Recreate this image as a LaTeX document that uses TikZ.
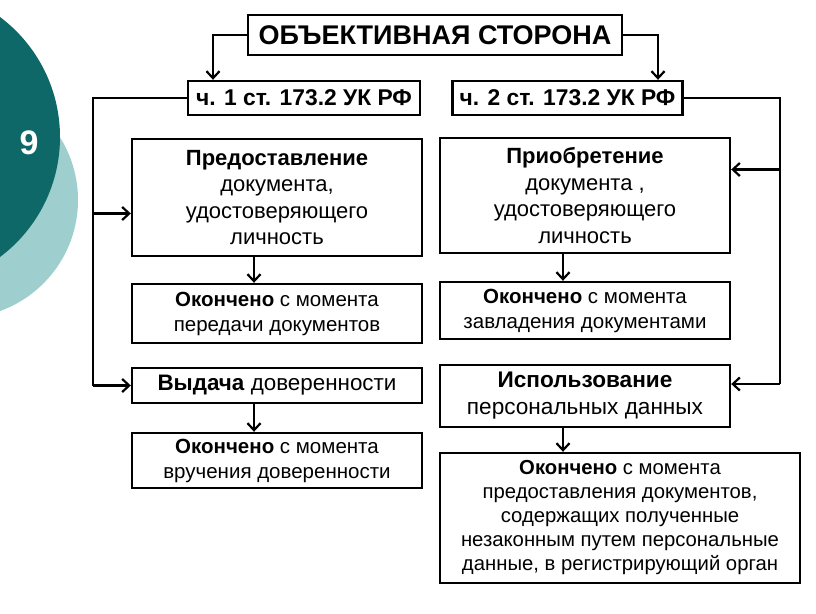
\documentclass[tikz,border=0pt]{standalone}
\usepackage{fontspec}
\setmainfont{Liberation Sans}
\usetikzlibrary{arrows.meta}
\definecolor{darkteal}{RGB}{14,104,104}
\definecolor{lightteal}{RGB}{158,206,206}
\begin{document}
\begin{tikzpicture}[x=1pt,y=-1pt,
  box/.style={draw, line width=2.4pt, inner sep=0pt, align=center, font=\fontsize{20.5}{25}\selectfont},
  conn/.style={line width=2.4pt},
  arr/.style={line width=2.4pt, -{Straight Barb[length=7pt,width=13pt,line width=2.2pt]}}]
\useasboundingbox (0,0) rectangle (816,613);
\clip (0,0) rectangle (816,613);
\fill[lightteal] (-40,200) circle (118);
\fill[darkteal] (-90,137) circle (150);
\node[font=\bfseries\fontsize{34}{34}\selectfont, text=white] (num) at (29,143) {9};

\node[box, minimum width=374pt, minimum height=40pt, font=\bfseries\fontsize{27}{27}\selectfont] (top) at (435,35) {ОБЪЕКТИВНАЯ СТОРОНА};
\node[box, minimum width=232pt, minimum height=34pt, font=\bfseries\fontsize{22.8}{22.8}\selectfont] (ch1) at (304,98) {ч. 1 ст. 173.2 УК РФ};
\node[box, minimum width=230pt, minimum height=34pt, font=\bfseries\fontsize{22.8}{22.8}\selectfont] (ch2) at (567.5,98) {ч. 2 ст. 173.2 УК РФ};

\node[box, minimum width=290pt, minimum height=117pt, font=\fontsize{22}{26.5}\selectfont] (pred) at (277,197.5) {\textbf{Предоставление}\\документа,\\удостоверяющего\\личность};
\node[box, minimum width=290pt, minimum height=59pt] (ok1) at (277,313.5) {\textbf{Окончено} с момента\\передачи документов};
\node[box, minimum width=290pt, minimum height=35pt, font=\fontsize{22.4}{25}\selectfont] (vyd) at (277,385.5) {\textbf{Выдача} доверенности};
\node[box, minimum width=290pt, minimum height=55pt] (ok3) at (277,460.5) {\textbf{Окончено} с момента\\вручения доверенности};

\node[box, minimum width=290pt, minimum height=115pt, font=\fontsize{22}{26.5}\selectfont] (prio) at (585,195.5) {\textbf{Приобретение}\\документа ,\\удостоверяющего\\личность};
\node[box, minimum width=290pt, minimum height=57pt] (ok2) at (585,310.5) {\textbf{Окончено} с момента\\завладения документами};
\node[box, minimum width=290pt, minimum height=62pt, font=\fontsize{22.6}{27}\selectfont] (isp) at (585,396) {\textbf{Использование}\\персональных данных};
\node[box, minimum width=360pt, minimum height=130pt, font=\fontsize{20.3}{24}\selectfont] (ok4) at (620,518) {\textbf{Окончено} с момента\\предоставления документов,\\содержащих полученные\\незаконным путем персональные\\данные, в регистрирующий орган};

% top arrows
\draw[arr] (top.west) -| ([xshift=-91pt]ch1.north);
\draw[arr] (top.east) -| ([xshift=90.5pt]ch2.north);

% left feedback
\coordinate (lb) at (93,0);
\coordinate (pa) at ([yshift=-16pt]pred.west);
\draw[conn] (ch1.west) -| (lb |- vyd.west);
\draw[arr] (lb |- vyd.west) -- (vyd.west);
\draw[arr] (lb |- pa) -- (pa);

% right feedback
\coordinate (rb) at (780,0);
\coordinate (ia) at ([yshift=12pt]isp.east);
\coordinate (pr) at ([yshift=26pt]prio.east);
\draw[conn] (ch2.east) -| (rb |- ia);
\draw[arr] (rb |- ia) -- (ia);
\draw[arr] (rb |- pr) -- (pr);

% vertical arrows
\coordinate (a1) at ([xshift=-23pt]pred.south);
\draw[arr] (a1) -- (a1 |- ok1.north);
\coordinate (a2) at ([xshift=-23pt]vyd.south);
\draw[arr] (a2) -- (a2 |- ok3.north);
\coordinate (a3) at ([xshift=-22pt]prio.south);
\draw[arr] (a3) -- (a3 |- ok2.north);
\coordinate (a4) at ([xshift=-22pt]isp.south);
\draw[arr] (a4) -- (a4 |- ok4.north);
\end{tikzpicture}
\end{document}
